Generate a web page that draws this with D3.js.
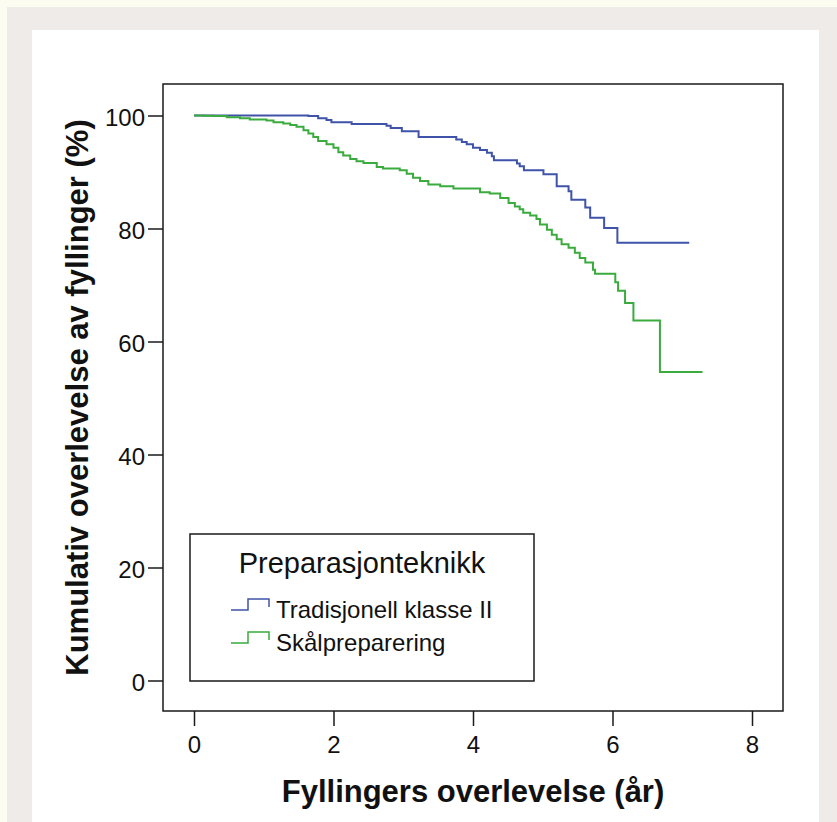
<!DOCTYPE html>
<html>
<head>
<meta charset="utf-8">
<script src="https://cdn.jsdelivr.net/npm/d3@7"></script>
<style>
  html, body { margin: 0; padding: 0; background: #fdfcf1; }
  svg { display: block; font-family: "Liberation Sans", Arial, sans-serif; }
</style>
</head>
<body>
<svg id="chart" width="837" height="822"></svg>
<script>
// Kaplan-Meier data (years, % surviving)
const tradTime = [0, 1.64, 1.78, 1.90, 1.97, 2.26, 2.76, 2.82, 2.98, 3.22, 3.76, 3.84, 3.91, 4.00, 4.10,
  4.20, 4.27, 4.30, 4.63, 4.67, 4.73, 5.01, 5.20, 5.37, 5.41, 5.61, 5.68, 5.88, 6.07, 7.10];
const tradSurv = [100, 99.9, 99.5, 99.2, 98.8, 98.5, 98.2, 97.8, 97.2, 96.2, 95.75, 95.3, 94.9, 94.3, 93.9,
  93.4, 92.8, 92.1, 91.5, 91.0, 90.3, 89.6, 87.5, 86.6, 85.1, 83.7, 81.9, 80.1, 77.5, 77.5];

const skalTime = [0, 0.13, 0.28, 0.47, 0.66, 0.80, 1.04, 1.14, 1.28, 1.38, 1.47, 1.57, 1.64, 1.71, 1.78,
  1.90, 2.00, 2.07, 2.14, 2.24, 2.33, 2.43, 2.62, 2.71, 2.95, 3.05, 3.14, 3.24, 3.36, 3.53, 3.72,
  4.10, 4.24, 4.39, 4.51, 4.60, 4.67, 4.72, 4.82, 4.91, 4.96, 5.06, 5.13, 5.20, 5.27, 5.37, 5.46,
  5.53, 5.61, 5.72, 5.75, 6.04, 6.08, 6.18, 6.30, 6.68, 7.29];
const skalSurv = [100, 99.95, 99.9, 99.7, 99.5, 99.3, 99.1, 98.8, 98.6, 98.3, 98.0, 97.4, 96.8, 96.2, 95.5,
  94.9, 94.3, 93.5, 92.9, 92.3, 91.9, 91.6, 90.9, 90.6, 90.3, 89.7, 89.0, 88.4, 87.8, 87.5, 87.1,
  86.4, 86.2, 85.4, 84.5, 83.9, 83.4, 82.8, 82.3, 81.7, 80.7, 79.8, 78.9, 78.1, 77.2, 76.6, 75.7,
  74.8, 74.0, 72.7, 72.0, 70.5, 69.0, 66.8, 63.7, 54.6, 54.6];

const xTicks = [0, 2, 4, 6, 8];
const yTicks = [0, 20, 40, 60, 80, 100];
const seriesNames = ["Tradisjonell klasse II", "Skålpreparering"];
const seriesColors = ["#3f53a8", "#3aab3c"];
const legendTitle = "Preparasjonteknikk";
const xTitle = "Fyllingers overlevelse (år)";
const yTitle = "Kumulativ overlevelse av fyllinger (%)";

const svg = d3.select("#chart");

// page backgrounds
svg.append("rect").attr("x", 7).attr("y", 7).attr("width", 830).attr("height", 815).attr("fill", "#eeebe9");
svg.append("rect").attr("x", 32).attr("y", 30).attr("width", 787).attr("height", 792).attr("fill", "#ffffff");

// frame of the plot
const frame = {left: 163, top: 84, right: 783, bottom: 711};

const x = d3.scaleLinear().domain([0, 8]).range([194, 752]);
const y = d3.scaleLinear().domain([0, 100]).range([680.5, 115.5]);

svg.append("rect")
    .attr("x", frame.left).attr("y", frame.top)
    .attr("width", frame.right - frame.left).attr("height", frame.bottom - frame.top)
    .attr("fill", "none").attr("stroke", "#1a1a1a").attr("stroke-width", 1.5);

// x axis below the frame
const xAxis = svg.append("g")
    .attr("transform", `translate(0,${frame.bottom})`)
    .call(d3.axisBottom(x).tickValues(xTicks).tickSize(15).tickPadding(10).tickFormat(d3.format("d")));
xAxis.select(".domain").remove();
xAxis.selectAll("line").attr("stroke", "#1a1a1a").attr("stroke-width", 1.5);
xAxis.selectAll("text").attr("font-size", 24).attr("fill", "#111")
    .attr("font-family", "Liberation Sans, Arial, sans-serif");

// y axis left of the frame
const yAxis = svg.append("g")
    .attr("transform", `translate(${frame.left},0)`)
    .call(d3.axisLeft(y).tickValues(yTicks).tickSize(15).tickPadding(3).tickFormat(d3.format("d")));
yAxis.select(".domain").remove();
yAxis.selectAll("line").attr("stroke", "#1a1a1a").attr("stroke-width", 1.5);
yAxis.selectAll("text").attr("font-size", 24).attr("fill", "#111").attr("dy", "0.42em")
    .attr("font-family", "Liberation Sans, Arial, sans-serif");

// axis titles
svg.append("text")
    .attr("x", (frame.left + frame.right) / 2).attr("y", 802)
    .attr("text-anchor", "middle").attr("font-size", 31).attr("font-weight", "bold").attr("fill", "#111")
    .text(xTitle);
svg.append("text")
    .attr("transform", `translate(88,${(frame.top + frame.bottom) / 2}) rotate(-90)`)
    .attr("text-anchor", "middle").attr("font-size", 31).attr("font-weight", "bold").attr("fill", "#111")
    .text(yTitle);

// survival curves
const line = d3.line()
    .x(d => x(d[0]))
    .y(d => y(d[1]))
    .curve(d3.curveStepAfter);

const curves = [d3.zip(tradTime, tradSurv), d3.zip(skalTime, skalSurv)];
svg.append("g").selectAll("path")
    .data(curves)
    .enter()
    .append("path")
    .attr("d", line)
    .attr("fill", "none")
    .attr("stroke", (d, i) => seriesColors[i])
    .attr("stroke-width", 2);

// legend
const legend = svg.append("g");
legend.append("rect")
    .attr("x", 190).attr("y", 534).attr("width", 344).attr("height", 147)
    .attr("fill", "#fff").attr("stroke", "#1a1a1a").attr("stroke-width", 1.5);
legend.append("text")
    .attr("x", 362).attr("y", 573).attr("text-anchor", "middle")
    .attr("font-size", 29).attr("fill", "#111")
    .text(legendTitle);

const items = legend.selectAll("g.item")
    .data(seriesNames)
    .enter()
    .append("g")
    .attr("class", "item")
    .attr("transform", (d, i) => `translate(0,${i * 33})`);
items.append("path")
    .attr("d", "M231,610 H248 V599 H269 V607")
    .attr("fill", "none")
    .attr("stroke", (d, i) => seriesColors[i])
    .attr("stroke-width", 1.5);
items.append("text")
    .attr("x", 276).attr("y", 618)
    .attr("font-size", 24).attr("fill", "#111")
    .text(d => d);
</script>
</body>
</html>
